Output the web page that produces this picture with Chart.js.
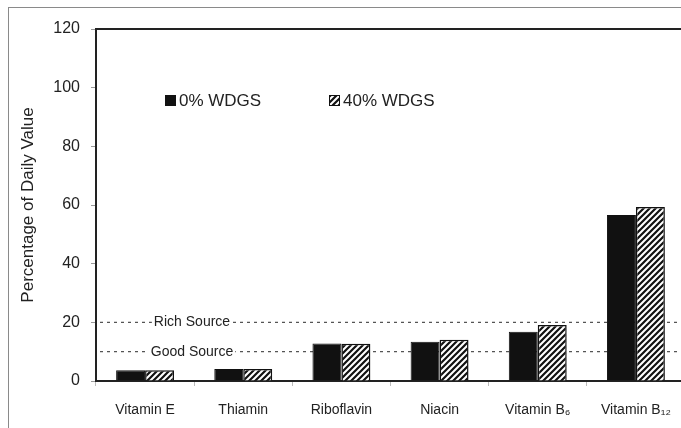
<!DOCTYPE html>
<html>
<head>
<meta charset="utf-8">
<script src="https://cdn.jsdelivr.net/npm/chart.js@4"></script>
<style>
  html, body { margin: 0; padding: 0; background: #fff; overflow: hidden; }
  #wrap { position: relative; width: 681px; height: 428px; overflow: hidden; }
  #frame { position: absolute; left: 8px; top: 7px; right: -5px; bottom: -5px;
           border-left: 1.5px solid #8a8a8a; border-top: 1.5px solid #8a8a8a; }
  #chartBox { position: absolute; left: 0; top: 0; width: 700px; height: 428px; }
</style>
</head>
<body>
<div id="wrap">
  <div id="frame"></div>
  <div id="chartBox"><canvas id="myChart"></canvas></div>
</div>
<script>
const categories = ["Vitamin E", "Thiamin", "Riboflavin", "Niacin", "Vitamin B₆", "Vitamin B₁₂"];
const wdgs0 = [3.7, 4.1, 12.8, 13.4, 16.8, 56.6];
const wdgs40 = [3.7, 4.1, 12.7, 14.1, 19.1, 59.3];
const seriesLabels = ["0% WDGS", "40% WDGS"];
const sourceLevels = [20, 10];
const sourceLabels = ["Rich Source", "Good Source"];

const fontFamily = "'Liberation Sans', Arial, sans-serif";

// diagonal hatch like the print figure
function makeHatch() {
  const c = document.createElement("canvas");
  c.width = 6; c.height = 6;
  const g = c.getContext("2d");
  g.fillStyle = "#fff";
  g.fillRect(0, 0, 6, 6);
  g.strokeStyle = "#111";
  g.lineWidth = 2.2;
  g.beginPath();
  g.moveTo(-1, 7); g.lineTo(7, -1);
  g.moveTo(-4, 4); g.lineTo(4, -4);
  g.moveTo(2, 10); g.lineTo(10, 2);
  g.stroke();
  return g.createPattern(c, "repeat");
}
const hatch = makeHatch();

const extras = {
  id: "extras",
  beforeDatasetsDraw(chart) {
    const { ctx, chartArea, scales } = chart;
    ctx.save();
    ctx.strokeStyle = "#555";
    ctx.lineWidth = 1.2;
    ctx.setLineDash([3, 4]);
    ctx.font = "14px " + fontFamily;
    ctx.textBaseline = "middle";
    ctx.textAlign = "center";
    sourceLevels.forEach((lv, i) => {
      const y = scales.y.getPixelForValue(lv);
      ctx.beginPath();
      ctx.moveTo(chartArea.left + 4, y);
      ctx.lineTo(chartArea.right, y);
      ctx.stroke();
      const tx = chartArea.left + 96;
      const w = ctx.measureText(sourceLabels[i]).width;
      ctx.fillStyle = "#fff";
      ctx.fillRect(tx - w / 2 - 2, y - 7, w + 4, 14);
      ctx.fillStyle = "#222";
      ctx.fillText(sourceLabels[i], tx, y);
    });
    ctx.restore();
  },
  afterDraw(chart) {
    const { ctx, chartArea } = chart;
    ctx.save();
    // top frame line
    ctx.strokeStyle = "#222";
    ctx.lineWidth = 2;
    ctx.beginPath();
    ctx.moveTo(chartArea.left - 1, chartArea.top);
    ctx.lineTo(chartArea.right + 20, chartArea.top);
    ctx.stroke();
    // legend inside plot
    const items = [
      { x: chartArea.left + 69, fill: "#111" },
      { x: chartArea.left + 233, fill: hatch }
    ];
    ctx.font = "17px " + fontFamily;
    ctx.textBaseline = "middle";
    ctx.textAlign = "left";
    items.forEach((it, i) => {
      ctx.fillStyle = it.fill;
      ctx.fillRect(it.x, 95, 11, 11);
      ctx.strokeStyle = "#111";
      ctx.lineWidth = 1;
      ctx.strokeRect(it.x + 0.5, 95.5, 10, 10);
      ctx.fillStyle = "#222";
      ctx.fillText(chart.data.datasets[i].label, it.x + 14, 101);
    });
    ctx.restore();
  }
};

new Chart(document.getElementById("myChart"), {
  type: "bar",
  data: {
    labels: categories,
    datasets: [
      {
        label: seriesLabels[0],
        data: wdgs0,
        backgroundColor: "#111",
        borderColor: "#111",
        borderWidth: 1,
        categoryPercentage: 0.59,
        barPercentage: 1.0
      },
      {
        label: seriesLabels[1],
        data: wdgs40,
        backgroundColor: hatch,
        borderColor: "#111",
        borderWidth: 1.5,
        categoryPercentage: 0.59,
        barPercentage: 1.0
      }
    ]
  },
  options: {
    responsive: true,
    maintainAspectRatio: false,
    animation: false,
    layout: { padding: { top: 29, right: 15, bottom: 0, left: 0 } },
    scales: {
      x: {
        grid: {
          offset: true,
          drawOnChartArea: false,
          drawTicks: true,
          tickLength: 5,
          color: "#bbb"
        },
        border: { display: true, color: "#222", width: 2 },
        ticks: {
          color: "#222",
          padding: 16,
          maxRotation: 0,
          autoSkip: false,
          font: { family: fontFamily, size: 14 }
        },
        afterFit: (scale) => { scale.height = 47; }
      },
      y: {
        min: 0,
        max: 120,
        grid: {
          drawOnChartArea: false,
          drawTicks: true,
          tickLength: 5,
          color: "#999"
        },
        border: { display: true, color: "#222", width: 2 },
        ticks: {
          stepSize: 20,
          color: "#222",
          padding: 11,
          font: { family: fontFamily, size: 16 }
        },
        title: {
          display: true,
          text: "Percentage of Daily Value",
          color: "#222",
          padding: { top: 18, bottom: 4 },
          font: { family: fontFamily, size: 17 }
        },
        afterFit: (scale) => { scale.width = 96; }
      }
    },
    plugins: {
      legend: { display: false },
      tooltip: { enabled: false }
    }
  },
  plugins: [extras]
});
</script>
</body>
</html>
